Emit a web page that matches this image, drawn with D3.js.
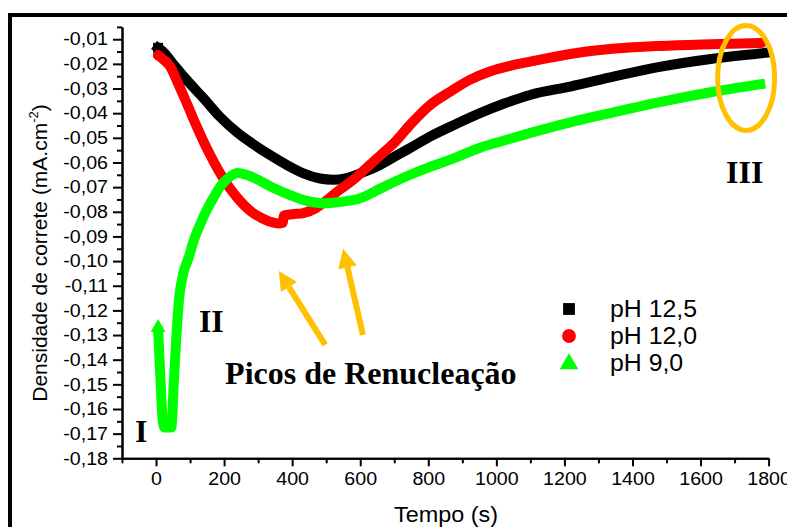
<!DOCTYPE html>
<html>
<head>
<meta charset="utf-8">
<script src="https://cdn.jsdelivr.net/npm/d3@7"></script>
<style>
  body { margin: 0; background: #fff; }
  svg { display: block; }
</style>
</head>
<body>
<svg id="chart" width="787" height="527"></svg>
<script>
// Cronoamperometria: densidade de corrente vs. tempo para três valores de pH

// pH 12,5
const tempoPH125 = [6, 20, 50, 90, 140, 188, 240, 285, 335, 384, 435, 482, 520, 560, 600, 658, 700, 746, 805, 880, 952, 1025, 1099, 1217, 1350, 1480, 1630, 1790];
const densPH125 = [-0.0135, -0.0150, -0.0200, -0.0265, -0.0340, -0.0415, -0.0480, -0.0525, -0.0570, -0.0610, -0.0645, -0.0665, -0.0670, -0.0663, -0.0644, -0.0610, -0.0577, -0.0542, -0.0495, -0.0445, -0.0400, -0.0360, -0.0326, -0.0292, -0.0250, -0.0212, -0.0180, -0.0155];

// pH 12,0
const tempoPH120 = [6, 20, 41, 65, 90, 115, 138, 163, 188, 212, 237, 260, 285, 310, 335, 360, 372, 376, 400, 433, 470, 500, 540, 580, 620, 660, 700, 746, 805, 864, 922, 981, 1040, 1099, 1158, 1217, 1350, 1480, 1630, 1780];
const densPH120 = [-0.0165, -0.0180, -0.0210, -0.0280, -0.0359, -0.0440, -0.0510, -0.0580, -0.0643, -0.0695, -0.0740, -0.0775, -0.0805, -0.0825, -0.0840, -0.0848, -0.0845, -0.0815, -0.0810, -0.0805, -0.0785, -0.0755, -0.0710, -0.0670, -0.0620, -0.0570, -0.0520, -0.0448, -0.0367, -0.0313, -0.0265, -0.0231, -0.0208, -0.0191, -0.0175, -0.0160, -0.0138, -0.0127, -0.0120, -0.0115];

// pH 9,0
const tempoPH90 = [6, 12, 20, 25, 35, 45, 52, 60, 68, 80, 95, 110, 130, 150, 170, 190, 215, 240, 265, 300, 340, 390, 440, 490, 540, 600, 660, 730, 805, 880, 952, 1025, 1100, 1220, 1350, 1480, 1630, 1790];
const densPH90 = [-0.1270, -0.1450, -0.1650, -0.1675, -0.1675, -0.1675, -0.1500, -0.1300, -0.1150, -0.1050, -0.0990, -0.0920, -0.0850, -0.0790, -0.0740, -0.0695, -0.0660, -0.0643, -0.0650, -0.0670, -0.0700, -0.0730, -0.0755, -0.0765, -0.0760, -0.0745, -0.0705, -0.0660, -0.0618, -0.0580, -0.0540, -0.0510, -0.0480, -0.0436, -0.0395, -0.0355, -0.0315, -0.0280];

const seriesNames = ["pH 12,5", "pH 12,0", "pH 9,0"];
const seriesColors = ["#000000", "#ff0000", "#00ff00"];

const xTickValues = [0, 200, 400, 600, 800, 1000, 1200, 1400, 1600, 1800];
const xMinorTicks = [-100, 100, 300, 500, 700, 900, 1100, 1300, 1500, 1700];
const yTickValues = [-0.01, -0.02, -0.03, -0.04, -0.05, -0.06, -0.07, -0.08, -0.09, -0.10, -0.11, -0.12, -0.13, -0.14, -0.15, -0.16, -0.17, -0.18];
const yMinorTicks = [-0.005, -0.015, -0.025, -0.035, -0.045, -0.055, -0.065, -0.075, -0.085, -0.095, -0.105, -0.115, -0.125, -0.135, -0.145, -0.155, -0.165, -0.175];

const xTitle = "Tempo (s)";
const yTitle = "Densidade de correte (mA.cm";

const svg = d3.select("#chart");
const sans = "'Liberation Sans', Arial, Helvetica, sans-serif";
const serif = "'Liberation Serif', 'Times New Roman', serif";

svg.append("rect").attr("width", 787).attr("height", 527).attr("fill", "#fff");

// outer frame
svg.append("rect")
  .attr("x", 10).attr("y", 15).attr("width", 820).attr("height", 560)
  .attr("fill", "none").attr("stroke", "#000").attr("stroke-width", 4);

const x = d3.scaleLinear().domain([-100, 1800]).range([122, 768.6]);
const y = d3.scaleLinear().domain([-0.18, -0.005]).range([458.3, 26.9]);

const ptBr = d3.formatLocale({ decimal: ",", thousands: ".", grouping: [3], currency: ["", ""], minus: "-" });
const fmtY = ptBr.format(".2f");

// stretch text slightly wider
function widen(sel, k) {
  sel.each(function () {
    const w = this.getComputedTextLength();
    d3.select(this).attr("textLength", w * k).attr("lengthAdjust", "spacingAndGlyphs");
  });
}

// axes
const xAxisG = svg.append("g").attr("transform", `translate(0,${y(-0.18)})`);
xAxisG.append("g").call(d3.axisBottom(x).tickValues(xMinorTicks).tickSize(5).tickSizeOuter(0).tickFormat(""));
xAxisG.append("g").call(d3.axisBottom(x).tickValues(xTickValues).tickSize(8).tickSizeOuter(0).tickPadding(6).tickFormat(d => String(d)));

const yAxisG = svg.append("g").attr("transform", `translate(${x(-100)},0)`);
yAxisG.append("g").call(d3.axisLeft(y).tickValues(yMinorTicks).tickSize(5).tickSizeOuter(0).tickFormat(""));
yAxisG.append("g").call(d3.axisLeft(y).tickValues(yTickValues).tickSize(9).tickSizeOuter(0).tickPadding(5).tickFormat(fmtY));

svg.selectAll(".domain").attr("stroke", "#000").attr("stroke-width", 2);
svg.selectAll(".tick line").attr("stroke", "#000").attr("stroke-width", 2);
svg.selectAll(".tick text")
  .attr("font-family", sans).attr("font-size", 18).attr("fill", "#000");
widen(svg.selectAll(".tick text"), 1.09);

// axis titles
const xt = svg.append("text")
  .attr("x", 446).attr("y", 522)
  .attr("text-anchor", "middle")
  .attr("font-family", sans).attr("font-size", 22.5)
  .text(xTitle);
widen(xt, 1.04);

const yt = svg.append("text")
  .attr("transform", "translate(47,253) rotate(-90)")
  .attr("text-anchor", "middle")
  .attr("font-family", sans).attr("font-size", 21);
yt.append("tspan").text(yTitle);
yt.append("tspan").attr("font-size", 13).attr("dy", -9).text("-2");
yt.append("tspan").attr("dy", 9).text(")");

// series: thick lines, with the marker shape shown at the starting point
const series = [
  { t: tempoPH125, v: densPH125, color: seriesColors[0], shape: d3.symbolSquare, size: 100, cap: "square" },
  { t: tempoPH120, v: densPH120, color: seriesColors[1], shape: d3.symbolCircle, size: 80, cap: "round" },
  { t: tempoPH90, v: densPH90, color: seriesColors[2], shape: d3.symbolTriangle, size: 95, cap: "butt" }
];

const line = d3.line()
  .x(d => x(d[0]))
  .y(d => y(d[1]))
  .curve(d3.curveMonotoneX);

series.forEach(s => {
  const pts = s.t.map((t, i) => [t, s.v[i]]);
  const g = svg.append("g");
  g.append("path")
    .attr("d", line(pts))
    .attr("fill", "none")
    .attr("stroke", s.color)
    .attr("stroke-width", 10)
    .attr("stroke-linejoin", "round")
    .attr("stroke-linecap", s.cap);
  g.append("path")
    .attr("d", d3.symbol().type(s.shape).size(s.size))
    .attr("transform", `translate(${x(pts[0][0])},${y(pts[0][1])})`)
    .attr("fill", s.color);
});

// legend
const legend = svg.append("g");
const legendSymbols = [
  { shape: d3.symbolSquare, size: 140 },
  { shape: d3.symbolCircle, size: 150 },
  { shape: d3.symbolTriangle, size: 150 }
];
seriesNames.forEach((name, i) => {
  const cy = 309 + i * 27;
  legend.append("path")
    .attr("d", d3.symbol().type(legendSymbols[i].shape).size(legendSymbols[i].size))
    .attr("transform", `translate(569,${cy + (i === 2 ? 1 : 0)})`)
    .attr("fill", seriesColors[i]);
  const tx = legend.append("text")
    .attr("x", 610).attr("y", cy + 8)
    .attr("font-family", sans).attr("font-size", 23)
    .text(name);
  widen(tx, 1.08);
});

// annotations
const orange = "#ffc000";

const romanLabels = [
  { text: "I", t: -62, v: -0.1733 },
  { text: "II", t: 126, v: -0.1287 },
  { text: "III", t: 1675, v: -0.0683 },
  { text: "Picos de Renucleação", t: 203, v: -0.1500 }
];
romanLabels.forEach(a => {
  svg.append("text")
    .attr("x", x(a.t)).attr("y", y(a.v))
    .attr("font-family", serif).attr("font-weight", "bold").attr("font-size", 32)
    .text(a.text);
});

// arrows pointing to the renucleation peaks
const arrows = [
  { t0: 497, v0: -0.134, t1: 361, v1: -0.104 },
  { t0: 608, v0: -0.130, t1: 550, v1: -0.095 }
];
arrows.forEach(a => {
  const x0 = x(a.t0), y0 = y(a.v0), x1 = x(a.t1), y1 = y(a.v1);
  const ang = Math.atan2(y1 - y0, x1 - x0);
  const headLen = 19, headHalf = 9.5;
  const bx = x1 - headLen * Math.cos(ang), by = y1 - headLen * Math.sin(ang);
  svg.append("line")
    .attr("x1", x0).attr("y1", y0).attr("x2", bx).attr("y2", by)
    .attr("stroke", orange).attr("stroke-width", 6);
  const px = -Math.sin(ang), py = Math.cos(ang);
  svg.append("path")
    .attr("d", `M${x1},${y1}L${bx + px * headHalf},${by + py * headHalf}L${bx - px * headHalf},${by - py * headHalf}Z`)
    .attr("fill", orange);
});

// ellipse around the final plateau
svg.append("ellipse")
  .attr("cx", x(1734)).attr("cy", y(-0.0257))
  .attr("rx", 28.5).attr("ry", 52.5)
  .attr("fill", "none").attr("stroke", orange).attr("stroke-width", 5);
</script>
</body>
</html>
